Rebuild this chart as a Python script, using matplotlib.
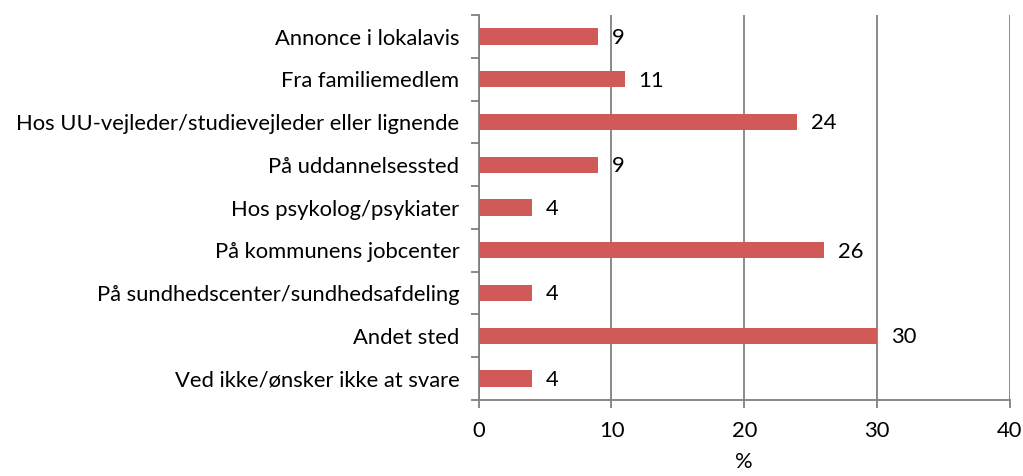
import matplotlib.pyplot as plt
import numpy as np

categories = [
    "Annonce i lokalavis",
    "Fra familiemedlem",
    "Hos UU-vejleder/studievejleder eller lignende",
    "På uddannelsessted",
    "Hos psykolog/psykiater",
    "På kommunens jobcenter",
    "På sundhedscenter/sundhedsafdeling",
    "Andet sted",
    "Ved ikke/ønsker ikke at svare",
]
values = [9, 11, 24, 9, 4, 26, 4, 30, 4]
xticks = [0, 10, 20, 30, 40]

plt.rcParams['font.family'] = ['Lato', 'DejaVu Sans']
fs = 15.8

fig = plt.figure(figsize=(10.23, 4.76), dpi=100)
ax = fig.add_axes([0.468, 0.160, 0.519, 0.808])

n = len(categories)
y = np.arange(n)[::-1]
ax.barh(y, values, height=0.38, color='#D05A57', zorder=3)
for yi, v in zip(y, values):
    ax.annotate(str(v), (v, yi), xytext=(10, -1), textcoords='offset points',
                va='center', ha='left', fontsize=fs)

ax.set_xlim(0, 40)
ax.set_ylim(-0.5, n - 0.5)
ax.set_xticks(xticks)
ax.set_xticklabels([str(t) for t in xticks], fontsize=fs)
ax.tick_params(axis='x', length=6, color='#808080', width=1.3, pad=9)
ax.set_yticks(y)
ax.set_yticklabels(categories, fontsize=fs)
ax.tick_params(axis='y', length=0, pad=14)
ax.set_yticks(np.arange(n + 1) - 0.5, minor=True)
ax.tick_params(axis='y', which='minor', length=6, color='#808080', width=1.3)
ax.grid(axis='x', color='#808080', linewidth=1.3, zorder=0)
for s in ['top', 'right']:
    ax.spines[s].set_visible(False)
for s in ['left', 'bottom']:
    ax.spines[s].set_color('#808080')
    ax.spines[s].set_linewidth(1.3)
ax.set_xlabel('%', fontsize=fs, labelpad=8)

fig.savefig('out.png', dpi=100)
